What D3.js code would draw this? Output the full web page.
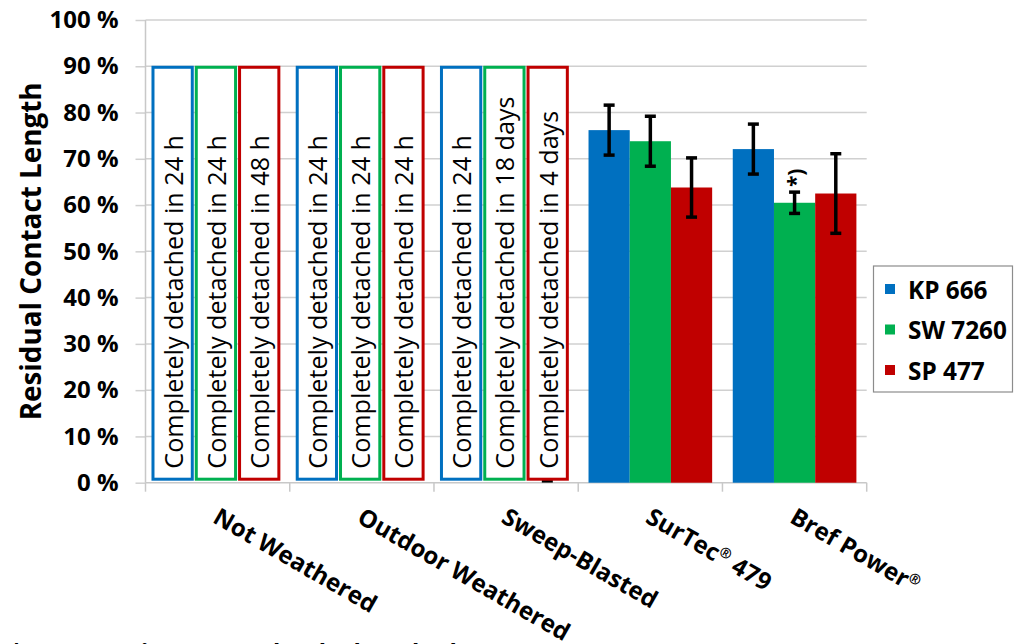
<!DOCTYPE html>
<html>
<head>
<meta charset="utf-8">
<script src="https://cdn.jsdelivr.net/npm/d3@7"></script>
<style>
  html, body { margin: 0; padding: 0; background: #fff; }
  svg { display: block; }
  text { font-family: "Open Sans", "DejaVu Sans", sans-serif; fill: #000; }
</style>
</head>
<body>
<svg id="chart" width="1015" height="644"></svg>
<script>
// ---------------- DATA ----------------
const categories = ["Not Weathered", "Outdoor Weathered", "Sweep-Blasted", "SurTec® 479", "Bref Power®"];
const series = ["KP 666", "SW 7260", "SP 477"];
const seriesColors = ["#0070C0", "#00B050", "#C00000"];

// measured residual contact length (%), null = specimens completely detached
const kp666 = [null, null, null, 76.2, 72.1];
const sw7260 = [null, null, null, 73.8, 60.5];
const sp477 = [null, null, 0, 63.8, 62.5];

// error bar half-widths (%)
const kp666Err = [null, null, null, 5.4, 5.4];
const sw7260Err = [null, null, null, 5.4, 2.3];
const sp477Err = [null, null, 0.4, 6.4, 8.6];

// "completely detached" placeholder boxes (drawn at 90 %)
const detachedBoxValue = 90;
const detachedPrefix = "Completely detached in ";
const kp666Detached = ["24 h", "24 h", "24 h", null, null];
const sw7260Detached = ["24 h", "24 h", "18 days", null, null];
const sp477Detached = ["48 h", "24 h", "4 days", null, null];

// annotation on Bref Power / SW 7260
const noteMark = "*)";
const noteCategory = "Bref Power®";
const noteSeries = "SW 7260";
const footnote = "*) one specimen completely detached";

const yTicks = [0, 10, 20, 30, 40, 50, 60, 70, 80, 90, 100];
const yTickFormat = v => v + " %";
const yTitle = "Residual Contact Length";

// ---------------- BUILD ----------------
(function () {
const values = [kp666, sw7260, sp477];
const errs = [kp666Err, sw7260Err, sp477Err];
const detached = [kp666Detached, sw7260Detached, sp477Detached];

const svg = d3.select("#chart");
const pLeft = 145.5, pRight = 866.7, pTop = 20, pBottom = 482.7;

const x0 = d3.scaleBand().domain(categories).range([pLeft, pRight]).paddingInner(0).paddingOuter(0);
const x1 = d3.scaleBand().domain(series).range([0, x0.bandwidth()]).paddingInner(0).paddingOuter(0.25);
// outline boxes are slightly wider than the solid bars and sit a little to the left
const xBox = d3.scaleBand().domain(series).range([-1.7, x0.bandwidth() - 1.7]).paddingInner(0).paddingOuter(0.166);
const y = d3.scaleLinear().domain([0, 100]).range([pBottom, pTop]);
const color = d3.scaleOrdinal().domain(series).range(seriesColors);

function fitSize(txt, target, weight, base) {
  const t = svg.append("text").attr("font-size", base).attr("font-weight", weight).text(txt);
  const w = t.node().getComputedTextLength();
  t.remove();
  return base * target / w;
}

const tickSize = fitSize("100 %", 69, "bold", 20);
const titleSize = fitSize(yTitle, 338, "bold", 20);
const boxSize = fitSize(detachedPrefix + "24 h", 334, "normal", 20);
const xLabSize = fitSize("Outdoor Weathered", 240, "bold", 20);
const legSize = fitSize("SW 7260", 99, "bold", 20);
const footSize = fitSize(footnote, 447, "bold", 20);

// y ticks + labels
const yAxis = d3.axisLeft(y).tickValues(yTicks).tickFormat(yTickFormat).tickSize(10).tickPadding(17);
const gy = svg.append("g").attr("transform", `translate(${pLeft},0)`).call(yAxis);
gy.select(".domain").remove();
gy.selectAll(".tick line").attr("stroke", "#d0d0d0").attr("stroke-width", 1.5);
gy.selectAll(".tick text").attr("font-size", tickSize).attr("font-weight", "bold")
  .attr("font-family", '"Open Sans", sans-serif').attr("fill", "#000");

// gridlines
svg.append("g").selectAll("line").data(yTicks.filter(v => v > 0)).join("line")
  .attr("x1", pLeft).attr("x2", pRight)
  .attr("y1", d => y(d)).attr("y2", d => y(d))
  .attr("stroke", "#d0d0d0").attr("stroke-width", 1.5);

// y axis line
svg.append("line").attr("x1", pLeft).attr("x2", pLeft).attr("y1", pTop).attr("y2", pBottom)
  .attr("stroke", "#c8c8c8").attr("stroke-width", 1.5);

// x axis with ticks between categories
const boundaries = categories.map(c => x0(c)).concat([x0(categories[categories.length - 1]) + x0.bandwidth()]);
svg.append("line").attr("x1", pLeft).attr("x2", pRight).attr("y1", pBottom).attr("y2", pBottom)
  .attr("stroke", "#c8c8c8").attr("stroke-width", 1.5);
svg.append("g").selectAll("line").data(boundaries).join("line")
  .attr("x1", d => d).attr("x2", d => d).attr("y1", pBottom).attr("y2", pBottom + 9)
  .attr("stroke", "#c8c8c8").attr("stroke-width", 1.5);

// flatten data
const cells = [];
categories.forEach((c, ci) => series.forEach((s, si) => {
  cells.push({ cat: c, ser: s, v: values[si][ci], e: errs[si][ci], note: detached[si][ci] });
}));
const cx = d => x0(d.cat) + x1(d.ser) + x1.bandwidth() / 2;
const bcx = d => x0(d.cat) + xBox(d.ser) + xBox.bandwidth() / 2;

// solid bars
svg.append("g").selectAll("rect").data(cells.filter(d => d.v != null && d.v > 0)).join("rect")
  .attr("x", d => x0(d.cat) + x1(d.ser))
  .attr("width", x1.bandwidth())
  .attr("y", d => y(d.v))
  .attr("height", d => y(0) - y(d.v))
  .attr("fill", d => color(d.ser));

// error bars
const eg = svg.append("g");
const errCells = cells.filter(d => d.v != null && d.e != null);
eg.selectAll("line.v").data(errCells.filter(d => d.v > 0)).join("line").attr("class", "v")
  .attr("x1", cx).attr("x2", cx)
  .attr("y1", d => y(d.v + d.e)).attr("y2", d => y(d.v - d.e))
  .attr("stroke", "#000").attr("stroke-width", 3.5);
errCells.forEach(d => {
  const ends = d.v > 0 ? [d.v + d.e, d.v - d.e] : [d.v + d.e];
  ends.forEach(val => {
    eg.append("line").attr("x1", cx(d) - 5.5).attr("x2", cx(d) + 5.5)
      .attr("y1", y(val)).attr("y2", y(val))
      .attr("stroke", "#000").attr("stroke-width", 3.5);
  });
});

// detached outline boxes
const boxCells = cells.filter(d => d.note != null);
const bg = svg.append("g");
bg.selectAll("rect").data(boxCells).join("rect")
  .attr("x", d => x0(d.cat) + xBox(d.ser) + 2)
  .attr("width", xBox.bandwidth() - 4)
  .attr("y", y(detachedBoxValue) + 1)
  .attr("height", y(0) - y(detachedBoxValue) - 4.5)
  .attr("fill", "#fff")
  .attr("stroke", d => color(d.ser))
  .attr("stroke-width", 3);
bg.selectAll("text").data(boxCells).join("text")
  .attr("transform", d => `translate(${bcx(d)},${y(0) - 14}) rotate(-90)`)
  .attr("text-anchor", "start")
  .attr("dominant-baseline", "central")
  .attr("font-size", boxSize)
  .text(d => detachedPrefix + d.note);

// annotation "*)"
const nd = cells.find(d => d.cat === noteCategory && d.ser === noteSeries);
svg.append("text")
  .attr("transform", `translate(${cx(nd)},${y(nd.v + nd.e) - 5}) rotate(-90)`)
  .attr("text-anchor", "start")
  .attr("dominant-baseline", "central")
  .attr("font-size", 21).attr("font-weight", "bold")
  .text(noteMark);

// x category labels (rotated)
const xl = svg.append("g").selectAll("text").data(categories).join("text")
  .attr("transform", c => `translate(${x0(c) + x0.bandwidth() / 2 - 6},${pBottom + 39}) rotate(30)`)
  .attr("text-anchor", "start")
  .attr("font-size", xLabSize).attr("font-weight", "bold");
xl.each(function (c) {
  const t = d3.select(this);
  const parts = c.split("®");
  parts.forEach((p, i) => {
    if (p.length) t.append("tspan").text(p);
    if (i < parts.length - 1) {
      t.append("tspan").attr("font-size", xLabSize * 0.6).attr("dy", -xLabSize * 0.35).text("®");
      t.append("tspan").attr("dy", xLabSize * 0.35).text("\u200B");
    }
  });
});

// y title
svg.append("text")
  .attr("transform", `translate(30,${(pTop + pBottom) / 2}) rotate(-90)`)
  .attr("text-anchor", "middle")
  .attr("dominant-baseline", "central")
  .attr("font-size", titleSize).attr("font-weight", "bold")
  .text(yTitle);

// legend
const lg = svg.append("g");
lg.append("rect").attr("x", 873.5).attr("y", 266).attr("width", 139).attr("height", 126)
  .attr("fill", "#fff").attr("stroke", "#8c8c8c").attr("stroke-width", 1.2);
const legY = d3.scalePoint().domain(series).range([289, 370]);
lg.selectAll("rect.sw").data(series).join("rect").attr("class", "sw")
  .attr("x", 885).attr("y", s => legY(s) - 5).attr("width", 10).attr("height", 10)
  .attr("fill", s => color(s));
lg.selectAll("text").data(series).join("text")
  .attr("x", 908).attr("y", s => legY(s))
  .attr("dominant-baseline", "central")
  .attr("font-size", legSize).attr("font-weight", "bold")
  .text(s => s);

// footnote (partly cut off at the bottom, as in the source image)
svg.append("text").attr("x", 10).attr("y", 661)
  .attr("font-size", footSize).attr("font-weight", "bold")
  .text(footnote);
})();
</script>
</body>
</html>
